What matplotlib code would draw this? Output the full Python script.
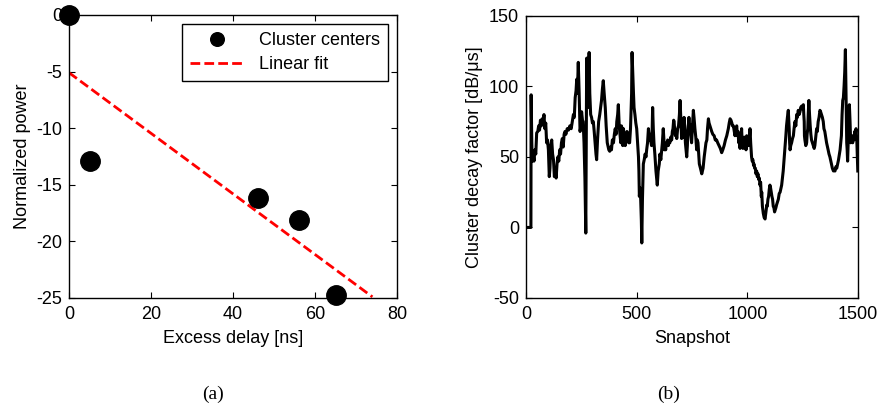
import numpy as np
import matplotlib
matplotlib.use('Agg')
import matplotlib.pyplot as plt

plt.rcParams['font.family'] = ['Liberation Sans', 'DejaVu Sans']
plt.rcParams['font.size'] = 13
plt.rcParams['axes.unicode_minus'] = False

# (a) cluster centers and linear fit
delay = [0, 5.2, 46, 56, 65]
power = [0, -12.9, -16.2, -18.1, -24.7]
fit_delay = [0, 74]
fit_power = [-5.1, -24.9]

# (b) cluster decay factor vs snapshot
snapshot = [0, 22, 23, 26, 28, 32, 36, 40, 44, 48,
            53, 57, 61, 65, 69, 73, 77, 81, 85, 89,
            93, 97, 101, 105, 108, 112, 116, 120, 124, 128,
            132, 136, 140, 144, 148, 152, 156, 160, 164, 168,
            172, 176, 180, 186, 192, 198, 204, 210, 214, 218,
            222, 226, 229, 232, 236, 240, 244, 248, 251, 255,
            258, 262, 266, 270, 272, 274, 277, 280, 283, 285,
            288, 292, 296, 300, 304, 308, 312, 316, 319, 323,
            328, 333, 337, 341, 345, 349, 353, 358, 362, 367,
            371, 374, 378, 382, 386, 390, 395, 399, 403, 407,
            410, 414, 417, 421, 425, 428, 431, 434, 437, 440,
            444, 448, 452, 456, 460, 464, 468, 472, 474, 477,
            479, 482, 485, 488, 492, 496, 500, 504, 508, 510,
            512, 515, 518, 521, 523, 526, 530, 534, 538, 542,
            545, 549, 553, 556, 558, 561, 563, 567, 570, 572,
            575, 578, 582, 587, 590, 593, 597, 602, 605, 609,
            613, 616, 620, 623, 625, 628, 631, 634, 637, 640,
            643, 646, 650, 654, 658, 661, 664, 667, 669, 672,
            675, 678, 681, 685, 689, 693, 696, 699, 703, 706,
            708, 711, 714, 717, 720, 723, 726, 729, 731, 734,
            736, 739, 741, 744, 748, 752, 756, 759, 763, 767,
            771, 774, 777, 780, 783, 788, 794, 797, 800, 805,
            809, 813, 817, 820, 824, 827, 831, 835, 839, 844,
            850, 855, 861, 866, 872, 878, 884, 889, 895, 901,
            907, 911, 914, 918, 922, 926, 930, 933, 937, 941,
            944, 948, 952, 955, 958, 961, 964, 967, 969, 972,
            974, 976, 978, 980, 982, 986, 990, 994, 997, 1001,
            1005, 1009, 1012, 1015, 1019, 1022, 1025, 1028, 1030, 1033,
            1036, 1039, 1042, 1045, 1048, 1051, 1054, 1057, 1060, 1063,
            1065, 1068, 1072, 1076, 1080, 1083, 1085, 1088, 1090, 1093,
            1096, 1099, 1102, 1105, 1108, 1111, 1114, 1117, 1120, 1123,
            1125, 1129, 1132, 1136, 1140, 1144, 1148, 1151, 1155, 1158,
            1162, 1166, 1170, 1174, 1177, 1181, 1185, 1187, 1189, 1191,
            1193, 1196, 1200, 1204, 1208, 1211, 1215, 1219, 1223, 1226,
            1230, 1234, 1238, 1241, 1245, 1249, 1253, 1255, 1257, 1258,
            1260, 1264, 1268, 1270, 1273, 1275, 1278, 1281, 1284, 1287,
            1290, 1294, 1298, 1302, 1305, 1309, 1313, 1316, 1320, 1324,
            1328, 1331, 1335, 1339, 1343, 1346, 1350, 1354, 1358, 1361,
            1365, 1369, 1373, 1376, 1380, 1384, 1389, 1392, 1396, 1400,
            1404, 1408, 1412, 1416, 1419, 1422, 1425, 1428, 1431, 1434,
            1437, 1440, 1443, 1446, 1449, 1451, 1453, 1456, 1458, 1461,
            1464, 1467, 1470, 1473, 1476, 1479, 1482, 1485, 1488, 1491,
            1495, 1499]
decay = [0, 0, 94, 60, 47, 52, 47, 55, 52, 67,
         68, 72, 69, 76, 72, 77, 74, 80, 70, 74,
         60, 62, 55, 36, 42, 58, 62, 52, 48, 36,
         40, 35, 45, 50, 47, 55, 52, 60, 63, 57,
         66, 68, 66, 70, 69, 72, 70, 76, 80, 78,
         92, 97, 105, 95, 117, 95, 68, 72, 82, 76,
         75, 60, 35, -4, 60, 120, 95, 85, 110, 124,
         95, 80, 78, 74, 75, 68, 60, 52, 48, 62,
         75, 80, 85, 90, 98, 104, 95, 85, 72, 60,
         57, 55, 54, 57, 55, 62, 60, 66, 70, 66,
         75, 80, 87, 72, 65, 60, 72, 70, 58, 70,
         64, 58, 62, 68, 65, 60, 60, 70, 81, 95,
         124, 110, 97, 85, 80, 74, 70, 60, 50, 40,
         22, 28, 20, 5, -11, 20, 45, 48, 52, 50,
         55, 60, 70, 64, 62, 66, 62, 58, 70, 85,
         70, 60, 52, 40, 35, 30, 40, 45, 52, 48,
         55, 60, 70, 62, 55, 58, 55, 60, 58, 62,
         58, 60, 60, 64, 62, 68, 70, 76, 75, 68,
         65, 68, 63, 70, 72, 80, 90, 78, 63, 68,
         70, 64, 78, 72, 60, 55, 50, 58, 68, 73,
         78, 70, 73, 66, 60, 72, 83, 78, 70, 64,
         55, 62, 60, 52, 45, 42, 38, 40, 42, 50,
         55, 60, 62, 70, 77, 74, 72, 70, 68, 66,
         65, 62, 62, 60, 58, 56, 53, 55, 58, 62,
         65, 68, 70, 74, 77, 76, 74, 72, 72, 68,
         65, 70, 72, 65, 68, 60, 62, 56, 66, 64,
         70, 62, 58, 56, 60, 64, 62, 55, 65, 60,
         58, 63, 70, 60, 50, 47, 48, 44, 45, 42,
         42, 38, 40, 36, 38, 34, 35, 30, 32, 22,
         25, 15, 10, 7, 6, 10, 12, 16, 15, 20,
         22, 27, 30, 28, 25, 22, 20, 15, 14, 11,
         12, 14, 16, 18, 20, 24, 25, 27, 30, 34,
         40, 48, 55, 65, 72, 78, 83, 76, 70, 60,
         55, 58, 60, 63, 65, 70, 75, 72, 80, 78,
         83, 80, 82, 85, 86, 84, 87, 80, 75, 65,
         62, 58, 60, 66, 70, 80, 90, 80, 72, 66,
         62, 60, 58, 56, 58, 64, 70, 68, 75, 78,
         83, 82, 80, 78, 75, 70, 68, 64, 60, 58,
         55, 52, 50, 48, 45, 42, 40, 41, 40, 43,
         42, 45, 48, 52, 55, 60, 65, 80, 90, 92,
         100, 110, 126, 95, 60, 55, 47, 62, 70, 87,
         75, 60, 65, 62, 60, 65, 62, 68, 66, 70,
         60, 40]

fig = plt.figure(figsize=(8.85, 4.09), dpi=100)
ax1 = fig.add_axes([0.078, 0.2714, 0.3706, 0.692])
ax2 = fig.add_axes([0.5944, 0.2714, 0.3751, 0.690])

ax1.plot(delay, power, 'o', color='k', markersize=14, clip_on=False,
         zorder=5, label='Cluster centers')
ax1.plot(fit_delay, fit_power, '--', color='#ff0000', linewidth=2,
         dashes=(3.5, 1.5), label='Linear fit')
ax1.set_xlim(0, 80)
ax1.set_ylim(-25, 0)
ax1.set_xticks([0, 20, 40, 60, 80])
ax1.set_yticks([0, -5, -10, -15, -20, -25])
ax1.set_xlabel('Excess delay [ns]', labelpad=5)
ax1.set_ylabel('Normalized power', labelpad=4)
leg = ax1.legend(loc='upper right', markerscale=0.7, fancybox=False,
                 edgecolor='k', framealpha=1, borderaxespad=0.5,
                 handlelength=3.0, borderpad=0.45, labelspacing=0.4)
leg.get_frame().set_linewidth(1.0)

ax2.plot(snapshot, decay, color='k', linewidth=2.2)
ax2.set_xlim(0, 1500)
ax2.set_ylim(-50, 150)
ax2.set_xticks([0, 500, 1000, 1500])
ax2.set_yticks([-50, 0, 50, 100, 150])
ax2.set_xlabel('Snapshot', labelpad=5)
ax2.set_ylabel('Cluster decay factor [dB/\u03bcs]', labelpad=4)

for ax in (ax1, ax2):
    ax.tick_params(direction='in', top=True, right=True, length=4, width=0.8,
                   labelsize=13)
    ax.tick_params(axis='x', pad=6)
    ax.tick_params(axis='y', pad=5)
    for s in ax.spines.values():
        s.set_linewidth(1.0)

fig.text(0.241, 0.037, '(a)', family='Liberation Serif', fontsize=14,
         ha='center', va='center')
fig.text(0.756, 0.037, '(b)', family='Liberation Serif', fontsize=14,
         ha='center', va='center')

fig.savefig('out.png', dpi=100)
